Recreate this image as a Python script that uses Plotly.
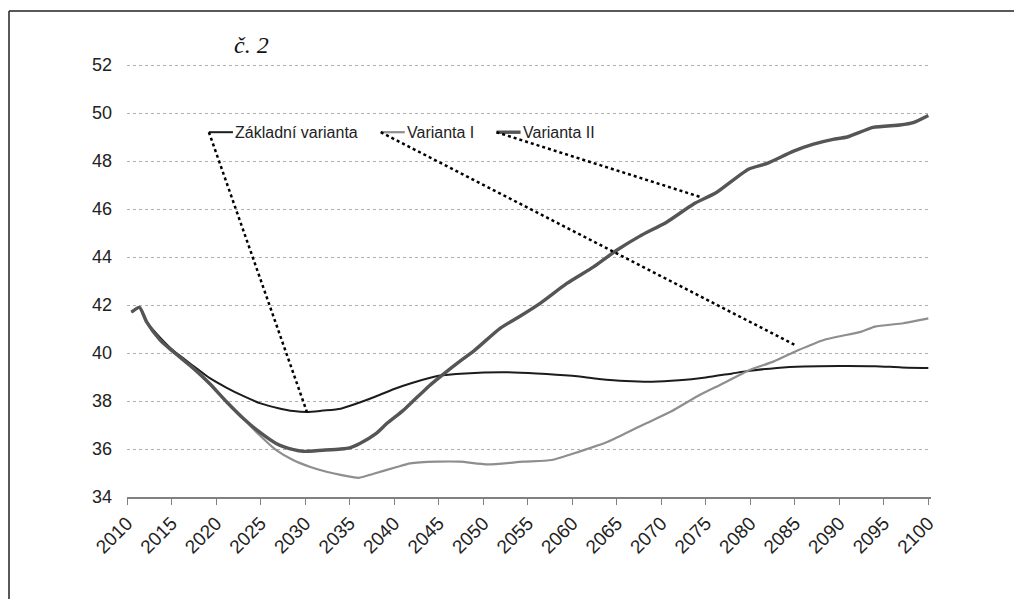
import plotly.graph_objects as go

# ---- data ----
years_zakladni = [2010.5, 2011.4, 2012.2, 2013.7, 2015.2, 2017.5, 2019.3, 2021.2, 2023.1, 2025, 2027,
                  2028.7, 2030.2, 2032, 2034, 2036.2, 2038, 2040, 2042, 2045, 2048, 2052, 2056, 2060,
                  2063, 2066, 2069, 2072, 2075, 2078, 2080, 2083, 2086, 2090, 2094, 2097, 2100]
zakladni = [41.7, 41.9, 41.3, 40.65, 40.1, 39.45, 38.95, 38.55, 38.2, 37.9, 37.7,
            37.58, 37.54, 37.6, 37.68, 37.95, 38.2, 38.5, 38.75, 39.05, 39.15, 39.2, 39.15, 39.05,
            38.92, 38.83, 38.8, 38.86, 38.98, 39.15, 39.26, 39.38, 39.44, 39.46, 39.45, 39.4, 39.38]

years_var1 = [2010.5, 2011.4, 2012.2, 2013.7, 2015.2, 2017.5, 2019.3, 2021.2, 2023.1, 2024.9, 2026.8,
              2028.7, 2030.6, 2032.4, 2034, 2036, 2037.7, 2040.3, 2041.8, 2044.8, 2047.4, 2050.5,
              2054.5, 2057.7, 2060.8, 2064, 2067.9, 2071.1, 2074.3, 2076.6, 2080, 2082.6, 2085.3,
              2088.5, 2092.5, 2094, 2097.2, 2100]
var1 = [41.7, 41.9, 41.3, 40.55, 40.05, 39.35, 38.72, 37.96, 37.26, 36.57, 35.94,
        35.53, 35.25, 35.05, 34.92, 34.8, 34.97, 35.25, 35.4, 35.47, 35.47, 35.36,
        35.47, 35.54, 35.89, 36.3, 37.0, 37.56, 38.25, 38.67, 39.3, 39.64, 40.1,
        40.57, 40.89, 41.1, 41.24, 41.44]

years_var2 = [2010.5, 2011.4, 2012.2, 2013.7, 2015.2, 2017.5, 2019.3, 2021.2, 2023.1, 2024.9, 2026.8,
              2028.7, 2029.8, 2032, 2034, 2035, 2036.2, 2038, 2039.2, 2041, 2042, 2044, 2045.4,
              2047, 2049, 2051.9, 2054, 2056.4, 2059.4, 2062.4, 2065, 2067.6, 2070.6, 2073.6,
              2076.2, 2079.8, 2081.9, 2084.8, 2087.1, 2089.3, 2090.9, 2093.8, 2096.8, 2098.3, 2100]
var2 = [41.7, 41.9, 41.3, 40.55, 40.05, 39.35, 38.72, 37.96, 37.26, 36.7, 36.22,
        35.97, 35.9, 35.95, 36.0, 36.05, 36.24, 36.65, 37.07, 37.6, 37.95, 38.65, 39.08,
        39.55, 40.1, 41.03, 41.5, 42.07, 42.9, 43.59, 44.28, 44.87, 45.45, 46.2,
        46.69, 47.66, 47.9, 48.4, 48.7, 48.9, 49.0, 49.4, 49.5, 49.6, 49.9]

series_names = ["Základní varianta", "Varianta I", "Varianta II"]
x_ticks = list(range(2010, 2101, 5))
y_ticks = list(range(34, 53, 2))

# leader lines: legend key start -> point on curve (data coordinates)
legend_anchor_x = [2019.2, 2038.5, 2051.5]
legend_anchor_y = 49.2
leader_end_x = [2030.2, 2085.2, 2074.4]
leader_end_y = [37.55, 40.3, 46.5]

# ---- styling ----
W, H = 1022, 599
ML, MR, MT, MB = 119, 99, 45, 110
OFF = 8  # page body offset
colors = ["#1c1c1c", "#8e8e8e", "#555555"]
widths = [2, 2.2, 3.4]
FONT = "Liberation Sans, Arial, sans-serif"

fig = go.Figure()
for xs, ys, name, c, w in zip([years_zakladni, years_var1, years_var2],
                              [zakladni, var1, var2], series_names, colors, widths):
    fig.add_trace(go.Scatter(x=xs, y=ys, mode="lines", name=name,
                             line=dict(color=c, width=w, shape="spline", smoothing=0.6),
                             showlegend=False))

# manual legend (key line + text)
key_len = 2.7  # years
shapes = []
annotations = []
for ax_, name, c, w in zip(legend_anchor_x, series_names, colors, widths):
    shapes.append(dict(type="line", xref="x", yref="y", x0=ax_, x1=ax_ + key_len,
                       y0=legend_anchor_y, y1=legend_anchor_y,
                       line=dict(color=c, width=w)))
    annotations.append(dict(x=ax_ + key_len, y=legend_anchor_y, xref="x", yref="y",
                            text=name, showarrow=False, xanchor="left", yanchor="middle",
                            xshift=0, font=dict(family=FONT, size=16, color="#222")))

# dotted leader lines
for sx, ex, ey in zip(legend_anchor_x, leader_end_x, leader_end_y):
    shapes.append(dict(type="line", xref="x", yref="y", x0=sx, y0=legend_anchor_y,
                       x1=ex, y1=ey, line=dict(color="black", width=2.5, dash="dot")))

# helpers: reference-picture pixel -> paper coordinates
def px_x(p):
    return (p - OFF - ML) / (W - ML - MR)

def px_y(p):
    return 1 - (p - OFF - MT) / (H - MT - MB)

# frame (left and top edges)
shapes.append(dict(type="line", xref="paper", yref="paper", x0=px_x(9), x1=px_x(9),
                   y0=px_y(11), y1=px_y(H + 20), line=dict(color="#222", width=1.5)))
shapes.append(dict(type="line", xref="paper", yref="paper", x0=px_x(9), x1=px_x(W + 20),
                   y0=px_y(11), y1=px_y(11), line=dict(color="#222", width=1.5)))

annotations.append(dict(x=px_x(251), y=px_y(45), xref="paper", yref="paper", text="<i>č. 2</i>",
                        showarrow=False, xanchor="center", yanchor="middle",
                        font=dict(family="Liberation Serif, Times New Roman, serif",
                                  size=24, color="#111")))

fig.update_layout(
    width=W, height=H,
    margin=dict(l=ML, r=MR, t=MT, b=MB, autoexpand=False),
    paper_bgcolor="white", plot_bgcolor="white",
    shapes=shapes, annotations=annotations,
    font=dict(family=FONT, size=18, color="#222"),
    xaxis=dict(range=[2010, 2100.3], tickvals=x_ticks, ticktext=[str(t) for t in x_ticks],
               tickangle=-45, showgrid=False, zeroline=False,
               showline=True, linecolor="#808080", linewidth=1.5,
               ticks="outside", ticklen=6, tickcolor="#808080", tickwidth=1.2,
               tickfont=dict(family=FONT, size=19, color="#222")),
    yaxis=dict(range=[34, 52.5], tickvals=y_ticks, showgrid=True,
               gridcolor="#b0b0b0", griddash="dot", gridwidth=1,
               zeroline=False, showline=False, ticks="",
               ticklabelstandoff=14,
               tickfont=dict(family=FONT, size=18, color="#222")),
)

fig.write_html("out.html")
